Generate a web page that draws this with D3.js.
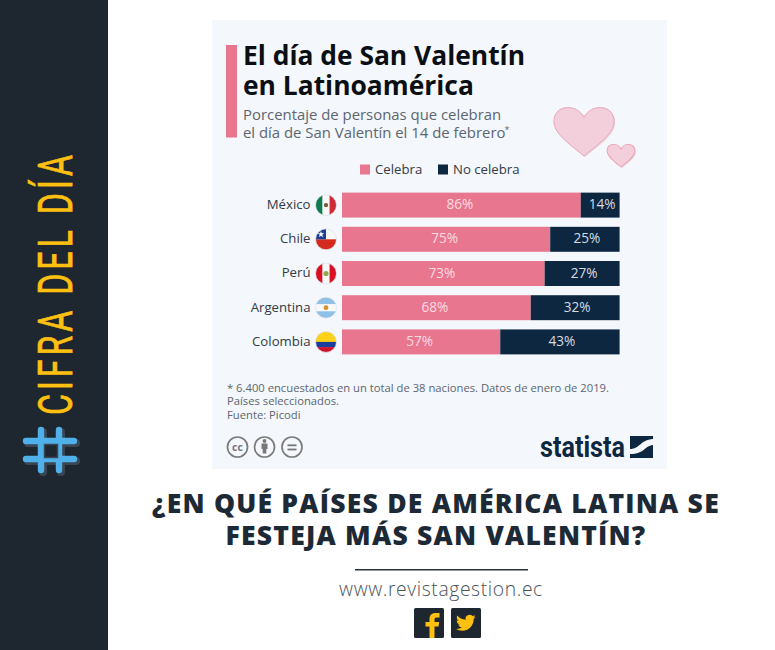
<!DOCTYPE html>
<html lang="es"><head><meta charset="utf-8">
<script src="https://cdn.jsdelivr.net/npm/d3@7/dist/d3.min.js"></script>
<style>html,body{margin:0;padding:0;background:#fff;overflow:hidden}svg{display:block}text{font-family:"Open Sans","Noto Sans",sans-serif}</style>
</head><body><svg id="c" width="775" height="650"></svg>
<script>
const countries = ["México","Chile","Perú","Argentina","Colombia"];
const celebra = [86,75,73,68,57];
const noCelebra = [14,25,27,32,43];
const seriesNames = ["Celebra","No celebra"];
const titleLines = ["El día de San Valentín","en Latinoamérica"];
const subtitleLines = ["Porcentaje de personas que celebran","el día de San Valentín el 14 de febrero"];
const noteLines = ["* 6.400 encuestados en un total de 38 naciones. Datos de enero de 2019.","Países seleccionados.","Fuente: Picodi"];
const headlineLines = ["¿EN QUÉ PAÍSES DE AMÉRICA LATINA SE","FESTEJA MÁS SAN VALENTÍN?"];

const PINK="#e9768f", NAVY="#0d2740", DARK="#1e2730", YEL="#fdc010";
const svg=d3.select("#c");
const T=(x,y,s,o={})=>svg.append("text").attr("x",x).attr("y",y).text(s)
  .attr("font-size",o.size||12).attr("fill",o.fill||"#333").attr("font-weight",o.w||400)
  .attr("text-anchor",o.a||"start").attr("letter-spacing",o.ls||0);

// frame
svg.append("rect").attr("width",108).attr("height",650).attr("fill",DARK);
svg.append("rect").attr("x",212).attr("y",20).attr("width",455).attr("height",449).attr("fill","#f4f7fb");

// sidebar text: cap height 35px, squeezed along the baseline to the reference length
const side=svg.append("text").text("CIFRA DEL DÍA")
  .attr("font-size",48).attr("fill",YEL).attr("stroke",YEL).attr("stroke-width",.7).attr("font-weight",400).attr("letter-spacing",6)
  .style("font-family",'"Liberation Sans Narrow","Roboto","Open Sans",sans-serif');
const sideLen=side.node().getComputedTextLength();
side.attr("transform",`translate(72,415) rotate(-90) scale(${264/sideLen},1)`);

// hash symbol
const hash=svg.append("g").attr("transform","translate(51,451) rotate(-90)");
const hashSeg=[[-20,-9,20,-9],[-20,9,20,9],[-9,-24,-9,24],[9,-24,9,24]];
[["#3a4652",-1,-1,8],["#4fb0ea",1,1,6.4]].forEach(([c,dx,dy,sw])=>{
  hash.selectAll(null).data(hashSeg).join("line")
   .attr("x1",d=>d[0]+dy).attr("y1",d=>d[1]-dx).attr("x2",d=>d[2]+dy).attr("y2",d=>d[3]-dx)
   .attr("stroke",c).attr("stroke-width",sw).attr("stroke-linecap","round");
});
hash.append("rect").attr("x",-6.5).attr("y",-6.5).attr("width",13).attr("height",13).attr("fill",DARK).attr("stroke","#3a4652").attr("stroke-width",1.5);

// title block
svg.append("rect").attr("x",226).attr("y",45).attr("width",11).attr("height",92.5).attr("fill",PINK);
titleLines.forEach((s,i)=>T(243,64.5+i*30,s,{size:26.4,w:700,fill:"#0b0f13"}));
subtitleLines.forEach((s,i)=>T(243,120+i*17.5,s,{size:14.9,fill:"#5c6670"}));
T(504.5,133,"*",{size:9,fill:"#5c6670"});

// hearts
const heart="M0,-17 C-7,-33 -31,-33 -31,-12 C-31,3 -12,16 0,28 C12,16 31,3 31,-12 C31,-33 7,-33 0,-17Z";
[[584,132,.97,.86],[621,155.8,.45,.4]].forEach(([x,y,kx,ky])=>{
  svg.append("path").attr("d",heart).attr("transform",`translate(${x+1},${y+1}) scale(${kx},${ky})`).attr("fill","#e7d3dc");
  svg.append("path").attr("d",heart).attr("transform",`translate(${x},${y}) scale(${kx},${ky})`).attr("fill","#f2cfdb").attr("stroke","#eca3b6").attr("stroke-width",1/kx);
});

// legend
const lg=[[360,PINK],[438,NAVY]];
seriesNames.forEach((s,i)=>{
  svg.append("rect").attr("x",lg[i][0]).attr("y",164.5).attr("width",10).attr("height",10).attr("fill",lg[i][1]);
  T(lg[i][0]+15,174,s,{size:13.2,fill:"#333b44"});
});

// scales
const x=d3.scaleLinear().domain([0,100]).range([342,619.6]);
const y=d3.scaleBand().domain(countries).range([188,359]).paddingInner(.27).paddingOuter(.135);
const rows=countries.map((c,i)=>({c,a:celebra[i],b:noCelebra[i]}));
const g=svg.append("g");
g.selectAll(".a").data(rows).join("rect").attr("x",x(0)).attr("y",d=>y(d.c)).attr("width",d=>x(d.a)-x(0)).attr("height",y.bandwidth()).attr("fill",PINK);
g.selectAll(".b").data(rows).join("rect").attr("x",d=>x(d.a)).attr("y",d=>y(d.c)).attr("width",d=>x(d.a+d.b)-x(d.a)).attr("height",y.bandwidth()).attr("fill",NAVY);
const lab=(sel,fx,val,fill)=>sel.append("text").attr("x",fx).attr("y",d=>y(d.c)+y.bandwidth()/2+4).text(val).attr("font-size",13.6).attr("fill",fill).attr("text-anchor","middle");
lab(g.selectAll(null).data(rows).join("g"),d=>x(d.a/2)-1.5,d=>d.a+"%","#f9dbe2");
lab(g.selectAll(null).data(rows).join("g"),d=>x(d.a+d.b/2)+2,d=>d.b+"%","#d5dbe2");
rows.forEach(d=>T(310.5,y(d.c)+y.bandwidth()/2+3.8,d.c,{size:13.2,a:"end",fill:"#333b44"}));

// flags
const defs=svg.append("defs");
const flagSpec={
 "México":[["v",.33,"#0f7a4f"],["v",.34,"#f8f8f8"],["v",.33,"#ce2b37"]],
 "Chile":[["h",.5,"#f8f8f8"],["h",.5,"#d52b1e"]],
 "Perú":[["v",.33,"#d91023"],["v",.34,"#f8f8f8"],["v",.33,"#d91023"]],
 "Argentina":[["h",.33,"#8fc1e8"],["h",.34,"#f8f8f8"],["h",.33,"#8fc1e8"]],
 "Colombia":[["h",.5,"#fcd116"],["h",.25,"#1a3f9c"],["h",.25,"#ce1126"]]
};
const R=10.5;
rows.forEach((d,i)=>{
  const cy=y(d.c)+y.bandwidth()/2, cx=326, id="f"+i;
  defs.append("clipPath").attr("id",id).append("circle").attr("cx",cx).attr("cy",cy).attr("r",R);
  const f=svg.append("g").attr("clip-path",`url(#${id})`);
  let o=0;
  flagSpec[d.c].forEach(([dir,w,col])=>{
    if(dir=="v") f.append("rect").attr("x",cx-R+o*2*R).attr("y",cy-R).attr("width",w*2*R+.3).attr("height",2*R).attr("fill",col);
    else f.append("rect").attr("x",cx-R).attr("y",cy-R+o*2*R).attr("width",2*R).attr("height",w*2*R+.3).attr("fill",col);
    o+=w;
  });
  if(d.c=="Chile"){
    f.append("rect").attr("x",cx-R).attr("y",cy-R).attr("width",R).attr("height",R).attr("fill","#1c3f94");
    f.append("path").attr("d",d3.symbol(d3.symbolStar,14)).attr("transform",`translate(${cx-5},${cy-5})`).attr("fill","#fff");
  }
  if(d.c=="México") f.append("circle").attr("cx",cx).attr("cy",cy).attr("r",2.2).attr("fill","#7a5a36");
  if(d.c=="Perú") f.append("circle").attr("cx",cx).attr("cy",cy).attr("r",2.6).attr("fill","#8fa84a");
  if(d.c=="Argentina") f.append("circle").attr("cx",cx).attr("cy",cy).attr("r",2.4).attr("fill","#d9912e");
  svg.append("circle").attr("cx",cx).attr("cy",cy).attr("r",R).attr("fill","none").attr("stroke","#dfe3e8").attr("stroke-width",.8);
});

// notes
noteLines.forEach((s,i)=>T(227,391.6+i*13.7,s,{size:11.24,fill:"#5c6670"}));

// cc icons
[[237.5,"cc"],[264.5,"by"],[292,"eq"]].forEach(([cx,k])=>{
  svg.append("circle").attr("cx",cx).attr("cy",447).attr("r",10).attr("fill","none").attr("stroke","#7b7b7b").attr("stroke-width",1.7);
  if(k=="cc") T(cx,450.5,"cc",{size:10.5,w:700,a:"middle",fill:"#777"});
  if(k=="by"){
    svg.append("circle").attr("cx",cx).attr("cy",441).attr("r",1.9).attr("fill","#777");
    svg.append("rect").attr("x",cx-3).attr("y",443.5).attr("width",6).attr("height",5.5).attr("fill","#777");
    svg.append("rect").attr("x",cx-1.8).attr("y",448.5).attr("width",3.6).attr("height",5).attr("fill","#777");
  }
  if(k=="eq") [-2.6,1.6].forEach(o=>svg.append("rect").attr("x",cx-4.5).attr("y",447+o).attr("width",9).attr("height",1.8).attr("fill","#777"));
});

// statista logo
svg.append("text").attr("x",540).attr("y",457).text("statista").attr("font-size",30).attr("font-weight",700).attr("fill",NAVY)
  .attr("textLength",85).attr("lengthAdjust","spacingAndGlyphs").style("font-family",'"Liberation Sans Narrow","Roboto",sans-serif');
svg.append("rect").attr("x",630).attr("y",436).attr("width",23).attr("height",22).attr("fill",NAVY);
svg.append("path").attr("d","M630,449 C640,449 640,440 653,439 L653,445 C644,446 645,454 630,454Z").attr("fill","#f4f7fb");

// headline
headlineLines.forEach((s,i)=>T(436,513+i*32,s,{size:26.5,w:800,a:"middle",ls:1.22,fill:"#1d2a36"}));

// footer
svg.append("rect").attr("x",355).attr("y",569).attr("width",173).attr("height",1.5).attr("fill","#27323d");
T(441,596,"www.revistagestion.ec",{size:19.3,w:300,a:"middle",fill:"#4a535c",ls:.62});
svg.append("rect").attr("x",414).attr("y",608).attr("width",30).attr("height",30).attr("rx",1.5).attr("fill",DARK);
svg.append("rect").attr("x",451).attr("y",608).attr("width",30).attr("height",30).attr("rx",1.5).attr("fill",DARK);
svg.append("path").attr("transform","translate(425.5,613)").attr("fill",YEL)
 .attr("d","M4,25 L4,13.5 L0,13.5 L0,9 L4,9 L4,6 C4,2 6.5,0 10,0 L14,0 L14,4.5 L11,4.5 C9.5,4.5 9,5.2 9,6.5 L9,9 L13.7,9 L13,13.5 L9,13.5 L9,25Z");
svg.append("path").attr("transform","translate(456,613) scale(.82)").attr("fill",YEL)
 .attr("d","M23.953 4.57a10 10 0 01-2.825.775 4.958 4.958 0 002.163-2.723c-.951.555-2.005.959-3.127 1.184a4.92 4.92 0 00-8.384 4.482C7.69 8.095 4.067 6.13 1.64 3.162a4.822 4.822 0 00-.666 2.475c0 1.71.87 3.213 2.188 4.096a4.904 4.904 0 01-2.228-.616v.06a4.923 4.923 0 003.946 4.827 4.996 4.996 0 01-2.212.085 4.936 4.936 0 004.604 3.417 9.867 9.867 0 01-6.102 2.105c-.39 0-.779-.023-1.17-.067a13.995 13.995 0 007.557 2.209c9.053 0 13.998-7.496 13.998-13.985 0-.21 0-.42-.015-.63A9.935 9.935 0 0024 4.59z");
</script></body></html>
